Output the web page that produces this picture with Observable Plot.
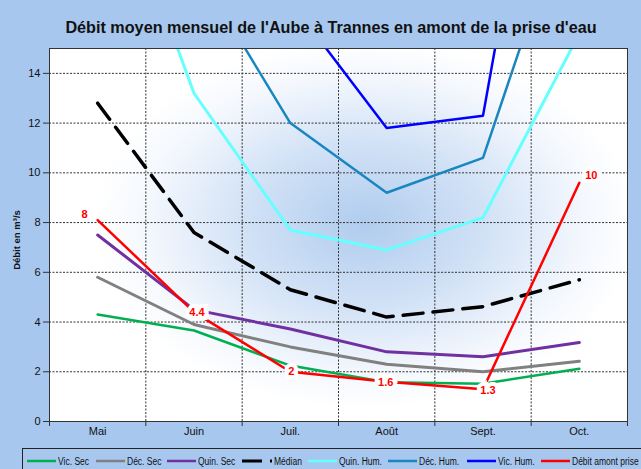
<!DOCTYPE html>
<html>
<head>
<meta charset="utf-8">
<script src="https://cdn.jsdelivr.net/npm/d3@7"></script>
<script src="https://cdn.jsdelivr.net/npm/@observablehq/plot@0.6"></script>
<style>
  html, body { margin: 0; padding: 0; background: #A7C7EE; }
  #wrap { position: relative; width: 641px; height: 469px; overflow: hidden; background: #A7C7EE; font-family: "Liberation Sans", Arial, sans-serif; }
  #title { height: 46px; box-sizing: border-box; padding-top: 9px; padding-left: 21px; text-align: center; font-size: 16.2px; font-weight: bold; color: #111; line-height: 36px; }
  #ylabel { position: absolute; left: 16px; top: 240px; transform: translate(-50%, -50%) rotate(-90deg); font-size: 9.5px; font-weight: bold; color: #111; white-space: nowrap; }
  #legend { position: absolute; left: 22px; top: 448px; width: 640px; height: 30px; border: 1px solid #222; box-sizing: border-box; }
  .item { position: absolute; top: 5px; height: 14px; display: flex; align-items: center; font-family: "Liberation Sans", Arial, sans-serif; font-size: 10px; color: #111; white-space: nowrap; }
  .item svg { margin-right: 2px; flex: none; }
  .item span { display: inline-block; transform: scaleX(0.85); transform-origin: left center; }
</style>
</head>
<body>
<div id="wrap">
  <div id="title">Débit moyen mensuel de l'Aube à Trannes en amont de la prise d'eau</div>
  <div id="chart"></div>
  <div id="ylabel">Débit en m³/s</div>
  <div id="legend"></div>
</div>
<script>
// ---- Data ----
const months = ["Mai", "Juin", "Juil.", "Août", "Sept.", "Oct."];
const yTicks = [0, 2, 4, 6, 8, 10, 12, 14];
const vicSec   = [4.3, 3.66, 2.25, 1.58, 1.52, 2.12];
const decSec   = [5.8, 3.9, 3.0, 2.3, 2.0, 2.42];
const quinSec  = [7.5, 4.5, 3.72, 2.8, 2.6, 3.18];
const median   = [12.8, 7.6, 5.3, 4.2, 4.62, 5.7];
const quinHum  = [23.8, 13.2, 7.7, 6.9, 8.2, 15.6];
const decHum   = [null, 18.4, 12.0, 9.2, 10.6, 22.1];
const vicHum   = [null, null, 16.9, 11.8, 12.3, 33.9];
const debit    = [8.1, 4.4, 2.0, 1.6, 1.3, 9.6];
const debitLabels = ["8", "4.4", "2", "1.6", "1.3", "10"];

const series = [
  {name: "Vic. Sec", values: vicSec, color: "#00B050", width: 2.5},
  {name: "Déc. Sec", values: decSec, color: "#808080", width: 3},
  {name: "Quin. Sec", values: quinSec, color: "#7030A0", width: 3},
  {name: "Médian", values: median, color: "#000000", width: 3.5, dash: "20,10"},
  {name: "Quin. Hum.", values: quinHum, color: "#66FFFF", width: 3},
  {name: "Déc. Hum.", values: decHum, color: "#1A86C0", width: 2.5},
  {name: "Vic. Hum.", values: vicHum, color: "#0000FF", width: 2.5},
  {name: "Débit amont prise", values: debit, color: "#FF0000", width: 2.5}
];

// ---- Layout (style only) ----
const labelOffsets = [[-13, -6], [3, 0], [1, 0], [-1, 1], [5, 1], [12, -7]];
const legendLeft = [4, 73, 144, 219, 285, 365, 444, 518];

const idx = months.map((_, i) => i);
const boundaries = d3.range(-0.5, months.length, 1);

const lineMarks = series.map(s => Plot.line(
  idx.map(i => ({i, v: s.values[i]})),
  {x: "i", y: "v", stroke: s.color, strokeWidth: s.width, strokeDasharray: s.dash,
   clip: true, defined: d => d.v != null}
));

const labelData = idx.map(i => ({i, v: debit[i], t: debitLabels[i]}));
const labelMarks = labelData.map((d, k) => Plot.text([d], {
  x: "i", y: "v", text: "t", dx: labelOffsets[k][0], dy: labelOffsets[k][1],
  fill: "#FF0000", stroke: "white", strokeWidth: 8, strokeLinejoin: "miter",
  fontWeight: "bold", fontSize: 11
}));

const chart = Plot.plot({
  width: 641,
  height: 401,
  marginTop: 2,
  marginBottom: 26,
  marginLeft: 49,
  marginRight: 14,
  style: {background: "transparent", fontFamily: "Liberation Sans, Arial, sans-serif", fontSize: "11px", color: "#111"},
  x: {domain: [-0.5, months.length - 0.5]},
  y: {domain: [0, 15]},
  marks: [
    Plot.frame({fill: "url(#glow)"}),
    Plot.ruleY(yTicks.filter(t => t > 0), {stroke: "#333", strokeWidth: 1, strokeDasharray: "2,1.5"}),
    Plot.ruleX(boundaries.slice(1, -1), {stroke: "#333", strokeWidth: 1, strokeDasharray: "2,1.5"}),
    Plot.axisY({ticks: yTicks, tickSize: 6, tickPadding: 3, label: null, stroke: "#333"}),
    Plot.axisX({ticks: boundaries, tickFormat: () => "", tickSize: 5, label: null, stroke: "#333"}),
    Plot.axisX({ticks: idx, tickFormat: i => months[i], tickSize: 0, tickPadding: 6, label: null}),
    ...lineMarks,
    ...labelMarks,
    Plot.frame({stroke: "#333", strokeWidth: 1})
  ]
});

const ns = "http://www.w3.org/2000/svg";
const defs = document.createElementNS(ns, "defs");
defs.innerHTML = `<radialGradient id="glow" gradientUnits="userSpaceOnUse" cx="365" cy="178" r="270" gradientTransform="translate(365 178) scale(1 0.68) translate(-365 -178)">
  <stop offset="0" stop-color="#B0CCEE"/>
  <stop offset="0.45" stop-color="#D2E2F6"/>
  <stop offset="0.8" stop-color="#F3F7FD"/>
  <stop offset="1" stop-color="#FFFFFF"/>
</radialGradient>`;
chart.insertBefore(defs, chart.firstChild);
document.getElementById("chart").appendChild(chart);

// ---- Legend ----
const legend = document.getElementById("legend");
series.forEach((s, k) => {
  const item = document.createElement("div");
  item.className = "item";
  item.style.left = legendLeft[k] + "px";
  const w = s.dash ? 30 : 29;
  const dash = s.dash ? ' stroke-dasharray="20,8,2,20"' : "";
  item.innerHTML = `<svg width="${w}" height="6"><line x1="0" y1="3" x2="${w}" y2="3" stroke="${s.color}" stroke-width="${s.dash ? 3 : 2.5}"${dash}/></svg><span>${s.name}</span>`;
  legend.appendChild(item);
});
</script>
</body>
</html>
